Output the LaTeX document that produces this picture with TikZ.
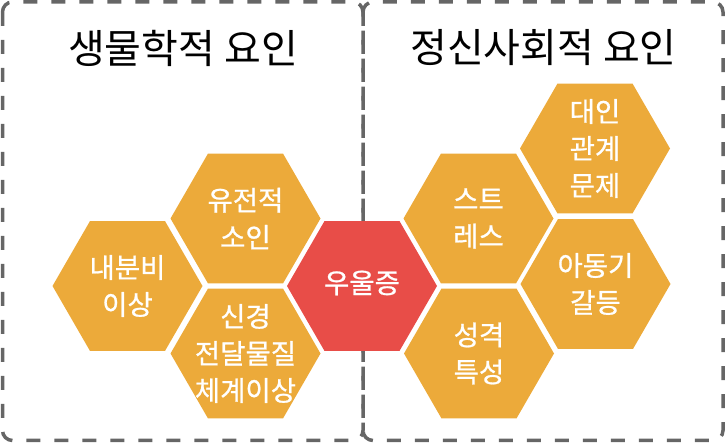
\documentclass[tikz,border=0pt]{standalone}
\usepackage{fontspec}
\setmainfont{Noto Sans CJK KR}
\newfontfamily\hexfont[FakeBold=0.8]{Noto Sans CJK KR}
\usetikzlibrary{shapes.geometric}
\definecolor{hexorange}{RGB}{236,170,58}
\definecolor{hexred}{RGB}{232,77,72}
\definecolor{boxgray}{RGB}{102,102,102}
\begin{document}
\begin{tikzpicture}[x=1pt,y=-1pt,
  hexa/.style={regular polygon, regular polygon sides=6, minimum size=150pt,
    inner sep=0pt, outer sep=0pt, draw=none, fill=hexorange},
  hextext/.style={text=white, align=center, inner sep=0pt,
    font=\hexfont\fontsize{27.5}{37}\selectfont},
  groupbox/.style={draw=boxgray, line width=3.5pt, dash pattern=on 14pt off 14pt,
    rounded corners=10pt},
  grouptitle/.style={font=\fontsize{40}{46}\selectfont, text=black, inner sep=0pt}]
\useasboundingbox (0,0) rectangle (726,443);
% group boxes
\draw[groupbox] (2.5,2) rectangle (363,440.5);
\draw[groupbox] (363,2) rectangle (723,440.5);
\node[grouptitle] (t1) at (183,48) {생물학적 요인};
\node[grouptitle] (t2) at (543.5,48) {정신사회적 요인};
% hexagons
\node[hexa, fill=hexred] (dep) at (362,286) {};
\node[hexa] (endo) at (127.5,286) {};
\node[hexa] (gene) at (245.5,218.5) {};
\node[hexa] (neuro) at (245.5,353.5) {};
\node[hexa] (stress) at (478.5,218.5) {};
\node[hexa] (pers) at (479,353.5) {};
\node[hexa] (inter) at (595,148.5) {};
\node[hexa] (child) at (595.5,284) {};
% texts
\node[hextext] (depT) at ([yshift=3pt]dep.center) {우울증};
\node[hextext] (endoT) at (endo) {내분비\\이상};
\node[hextext] (geneT) at (gene) {유전적\\소인};
\node[hextext] (neuroT) at (neuro) {신경\\전달물질\\체계이상};
\node[hextext] (stressT) at (stress) {스트\\레스};
\node[hextext] (persT) at (pers) {성격\\특성};
\node[hextext] (interT) at (inter) {대인\\관계\\문제};
\node[hextext] (childT) at (child) {아동기\\갈등};
\end{tikzpicture}
\end{document}
